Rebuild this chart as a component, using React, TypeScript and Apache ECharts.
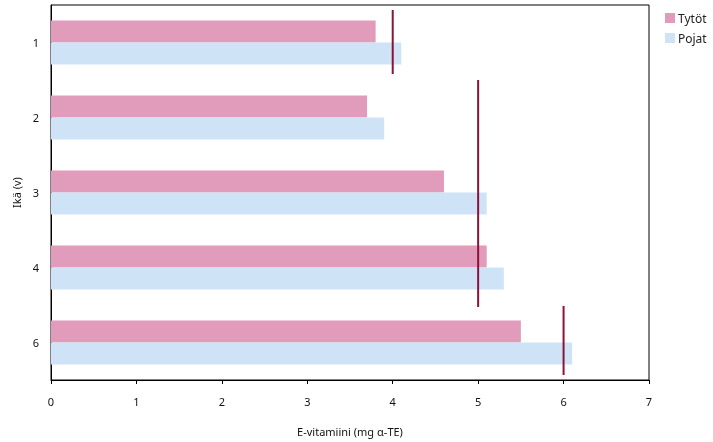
import React, { useEffect, useRef } from "react";
import * as echarts from "echarts";

const ages = ["1", "2", "3", "4", "6"];
const girls = [3.8, 3.7, 4.6, 5.1, 5.5];
const boys = [4.1, 3.9, 5.1, 5.3, 6.1];
const xTicks = [0, 1, 2, 3, 4, 5, 6, 7];
// recommended intake: value, first age index, last age index
const recValues = [4, 5, 6];
const recFrom = [0, 1, 4];
const recTo = [0, 3, 4];

export default function App() {
  const ref = useRef<HTMLDivElement>(null);
  useEffect(() => {
    const chart = echarts.init(ref.current!, null, { renderer: "svg" });
    const font = "Noto Sans";
    const insets = [
      [5, 6],
      [0, -2],
      [1, 5],
    ];
    chart.setOption({
      animation: false,
      textStyle: { fontFamily: font },
      grid: {
        left: 51,
        top: 5,
        right: 64,
        bottom: 61,
        show: true,
        borderColor: "#000",
        borderWidth: 1,
        backgroundColor: "transparent",
      },
      legend: {
        orient: "vertical",
        left: 660,
        top: 7,
        itemWidth: 10,
        itemHeight: 10,
        itemGap: 8,
        icon: "rect",
        textStyle: { fontSize: 12, color: "#222", fontFamily: font, padding: [0, 0, 0, -2] },
        data: ["Tytöt", "Pojat"],
      },
      xAxis: {
        type: "value",
        min: 0,
        max: 7,
        interval: 1,
        name: "E-vitamiini (mg α-TE)",
        nameLocation: "middle",
        nameGap: 46,
        nameTextStyle: { fontSize: 11, color: "#111" },
        axisLine: { show: true, lineStyle: { color: "#000", width: 1 } },
        axisTick: { show: true, length: 4, lineStyle: { color: "#000" } },
        axisLabel: {
          margin: 16,
          fontSize: 11,
          color: "#111",
          formatter: (v: number) => (xTicks.includes(v) ? String(v) : ""),
        },
        splitLine: { show: false },
      },
      yAxis: {
        type: "category",
        inverse: true,
        data: ages,
        name: "Ikä (v)",
        nameLocation: "middle",
        nameGap: 28,
        nameRotate: 90,
        nameTextStyle: { fontSize: 11, color: "#111" },
        axisLine: { show: true, lineStyle: { color: "#000" } },
        axisTick: { show: false },
        axisLabel: { margin: 12, fontSize: 11, color: "#111" },
      },
      series: [
        {
          name: "Tytöt",
          type: "bar",
          data: girls,
          itemStyle: { color: "#e09cba" },
          barGap: "0%",
          barCategoryGap: "41.5%",
        },
        {
          name: "Pojat",
          type: "bar",
          data: boys,
          itemStyle: { color: "#cfe3f7" },
        },
        {
          type: "custom",
          silent: true,
          data: recValues.map((v, i) => [v, recFrom[i], recTo[i], i]),
          encode: { x: 0, y: 1 },
          renderItem: (params: any, api: any) => {
            const x = api.value(0);
            const s = api.value(1);
            const e = api.value(2);
            const k = api.value(3);
            const p0 = api.coord([x, s]);
            const p1 = api.coord([x, e]);
            const band = api.size([0, 1])[1];
            const ins = insets[k] || [0, 0];
            return {
              type: "line",
              shape: {
                x1: p0[0],
                y1: p0[1] - band / 2 + ins[0],
                x2: p1[0],
                y2: p1[1] + band / 2 - ins[1],
              },
              style: { stroke: "#8c1238", lineWidth: 2 },
            };
          },
          z: 5,
        },
      ],
    });
    return () => chart.dispose();
  }, []);
  return (
    <div
      ref={ref}
      style={{ position: "fixed", left: 0, top: 0, width: 713, height: 442 }}
    />
  );
}
